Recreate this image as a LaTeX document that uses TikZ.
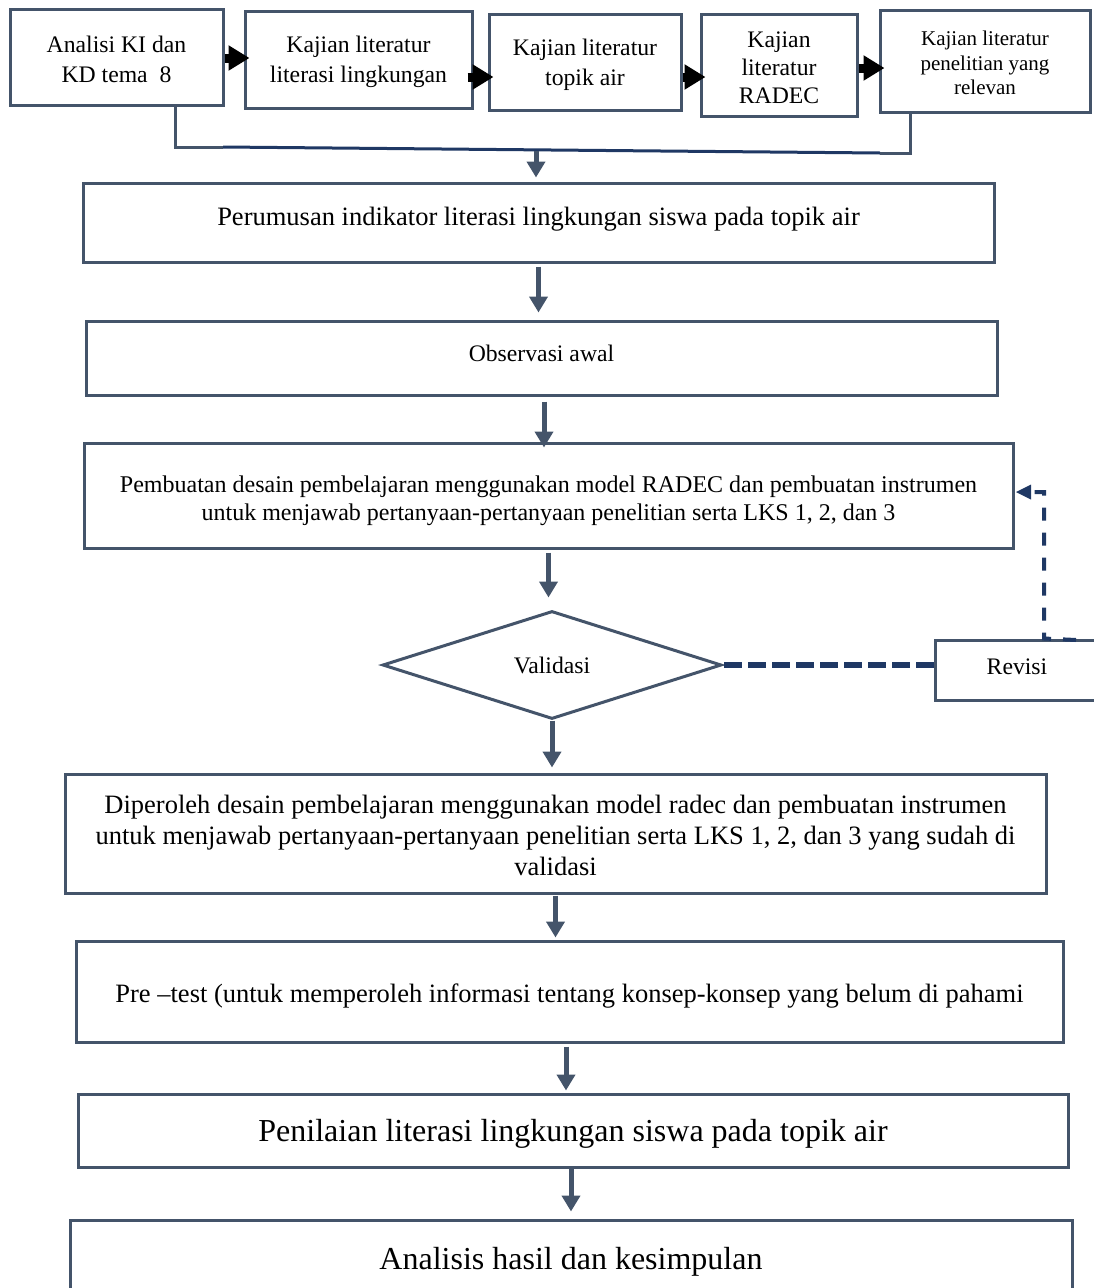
\documentclass[tikz,border=0pt]{standalone}
\usepackage{fontspec}
\setmainfont{Liberation Serif}
\usetikzlibrary{arrows.meta,shapes.geometric}
\definecolor{boxc}{RGB}{68,84,106}
\definecolor{navy}{RGB}{31,56,100}
\begin{document}
\begin{tikzpicture}[x=1pt,y=-1pt,
  box/.style={draw=boxc, line width=3pt, inner sep=0pt, align=center, fill=white},
  f24/.style={font=\fontsize{23.7}{30}\selectfont, align=center},
  f26/.style={font=\fontsize{26.5}{31}\selectfont, align=center},
  f32/.style={font=\fontsize{32}{38}\selectfont, align=center},
  garrow/.style={draw=boxc, line width=5pt, -{Triangle[width=18pt,length=16pt]}},
  barrow/.style={draw=black, line width=9pt, -{Triangle[width=24pt,length=21pt]}},
  dashline/.style={draw=navy, line width=5.5pt, dash pattern=on 18pt off 6pt},
  conn/.style={draw=boxc, line width=3pt}]
\useasboundingbox (0,0) rectangle (1093,1288);

% top row
\node[box, minimum width=213pt, minimum height=96pt,
  label={[f24, yshift=-2pt]center:Analisi KI dan\\KD tema\ \ 8}] (A) at (116.5,57) {};
\node[box, minimum width=227pt, minimum height=97pt,
  label={[f24, yshift=-2pt]center:Kajian literatur\\literasi lingkungan}] (B) at (358.5,59.5) {};
\node[box, minimum width=192pt, minimum height=96pt,
  label={[f24, yshift=-3pt]center:Kajian literatur\\topik air}] (C) at (585,62) {};
\node[box, minimum width=156pt, minimum height=102pt,
  label={[font=\fontsize{23.7}{28}\selectfont, align=center, yshift=-3pt]center:Kajian\\literatur\\RADEC}] (D) at (779,65) {};
\node[box, minimum width=210pt, minimum height=102pt,
  label={[font=\fontsize{21}{24.5}\selectfont, align=center, yshift=-2pt]center:Kajian literatur\\penelitian yang\\relevan}] (E) at (985,61) {};

\coordinate (r1) at (0,58);
\coordinate (r2) at (0,77);
\coordinate (r3) at (0,77);
\coordinate (r4) at (0,68);
\draw[barrow] (A.east |- r1) -- ([xshift=6pt]B.west |- r1);
\draw[barrow] ([xshift=-6pt]B.east |- r2) -- ([xshift=6pt]C.west |- r2);
\draw[barrow] (C.east |- r3) -- ([xshift=6pt]D.west |- r3);
\draw[barrow] (D.east |- r4) -- ([xshift=6pt]E.west |- r4);

% bracket connector
\coordinate (aL) at (175,147);
\coordinate (aM) at (223,147);
\coordinate (eM) at (880,153);
\coordinate (eL) at (910,153);
\coordinate (j) at (536,148);
\draw[conn] (A.south -| aL) -- (aL) -- (aM);
\draw[draw=navy, line width=3pt] (aM) -- (eM);
\draw[conn] (eM) -- (eL) -- (E.south -| eL);

% main column
\node[box, minimum width=911pt, minimum height=79pt,
  label={[f26, yshift=3pt]center:Perumusan indikator literasi lingkungan siswa pada topik air}] (P1) at (538.5,222.5) {};
\node[box, minimum width=911pt, minimum height=74pt,
  label={[f24, yshift=5pt]center:Observasi awal}] (P2) at (541.5,358) {};
\node[box, minimum width=929pt, minimum height=105pt,
  label={[font=\fontsize{24}{28}\selectfont, align=center, yshift=-5pt]center:Pembuatan desain pembelajaran menggunakan model RADEC dan pembuatan instrumen\\untuk menjawab pertanyaan-pertanyaan penelitian serta LKS 1, 2, dan 3}] (P3) at (548.5,495.5) {};
\node[diamond, draw=boxc, line width=3pt, fill=white, inner sep=0pt, minimum width=339pt, minimum height=108pt, f24] (V) at (552,665) {Validasi};
\node[box, minimum width=170pt, minimum height=60pt,
  label={[f24, xshift=-3pt, yshift=3pt]center:Revisi}] (Rv) at (1020,670) {};
\node[box, minimum width=981pt, minimum height=119pt,
  label={[f26, yshift=-2pt]center:Diperoleh desain pembelajaran menggunakan model radec dan pembuatan instrumen\\untuk menjawab pertanyaan-pertanyaan penelitian serta LKS 1, 2, dan 3 yang sudah di\\validasi}] (P4) at (555.5,833.5) {};
\node[box, minimum width=987pt, minimum height=101pt,
  label={[f26, yshift=-5pt]center:Pre --test (untuk memperoleh informasi tentang konsep-konsep yang belum di pahami}] (P5) at (569.5,991.5) {};
\node[box, minimum width=990pt, minimum height=73pt,
  label={[f32, yshift=-3pt]center:Penilaian literasi lingkungan siswa pada topik air}] (P6) at (573,1130.5) {};
\node[box, minimum width=1002pt, minimum height=80pt,
  label={[f32, yshift=-2pt]center:Analisis hasil dan kesimpulan}] (P7) at (571,1260) {};

% vertical arrows
\draw[garrow, shorten <=3pt] (j) -- ([yshift=4pt]P1.north -| j);
\draw[garrow, shorten <=3pt, shorten >=7pt] (P1.south) -- (P1.south |- P2.north);
\draw[garrow, shorten <=5pt, shorten >=-6pt] ([xshift=2.5pt]P2.south) -- ([xshift=2.5pt]P2.south |- P3.north);
\draw[garrow, shorten <=3pt, shorten >=12pt] (P3.south) -- (P3.south |- V.north);
\draw[garrow, shorten >=5pt] (V.south) -- (V.south |- P4.north);
\draw[garrow, shorten <=1pt, shorten >=2pt] (P4.south) -- (P4.south |- P5.north);
\draw[garrow, shorten <=3pt, shorten >=2pt] ([xshift=-3.5pt]P5.south) -- ([xshift=-3.5pt]P5.south |- P6.north);
\draw[garrow, shorten <=-2pt, shorten >=7pt] ([xshift=-2pt]P6.south) -- ([xshift=-2pt]P6.south |- P7.north);

% revision loop
\coordinate (rl) at (1044,492);
\coordinate (rt) at (1076,640);
\draw[dashline] (V.east -| Rv.west) -- (V.east);
\draw[draw=navy, line width=4pt, dash pattern=on 13pt off 12pt] (rt) -- (Rv.north -| rl) -- (rl) -- ([xshift=17pt]P3.east |- rl);
\fill[navy] ([xshift=1.5pt]P3.east |- rl) -- ++(15,-7.5) -- ++(0,15) -- cycle;
\end{tikzpicture}
\end{document}
